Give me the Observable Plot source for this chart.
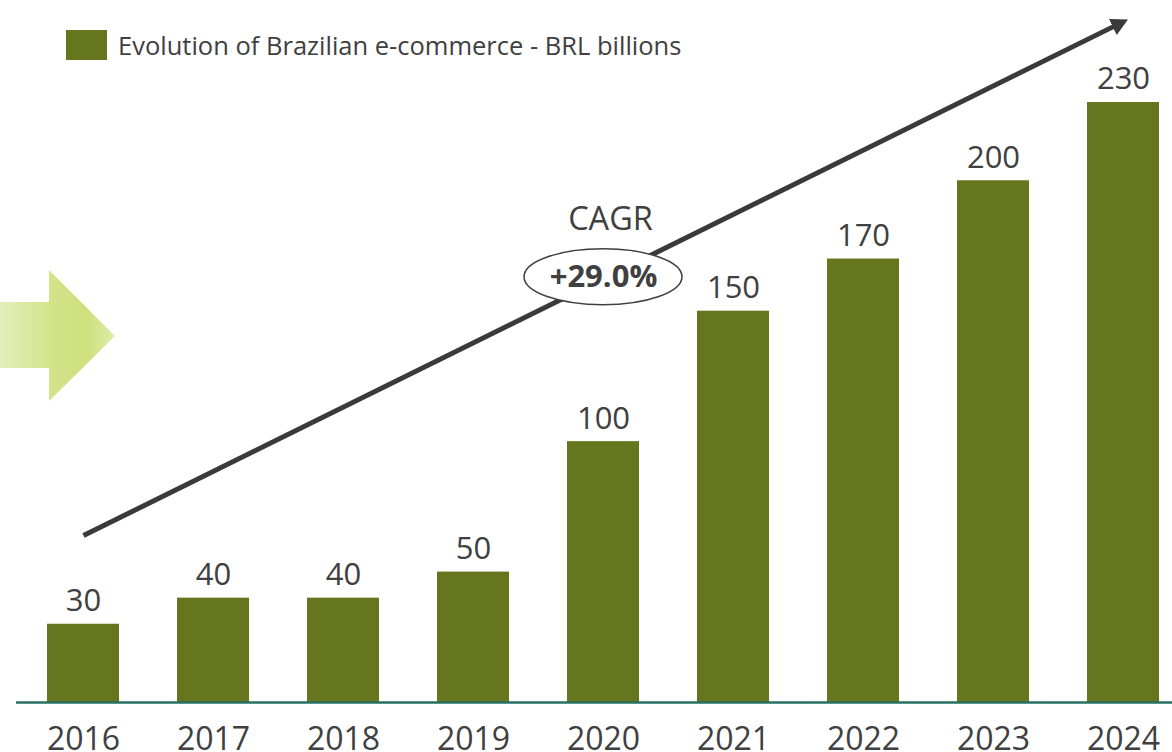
<!DOCTYPE html>
<html><head><meta charset="utf-8">
<script src="https://cdn.jsdelivr.net/npm/d3@7"></script>
<script src="https://cdn.jsdelivr.net/npm/@observablehq/plot@0.6"></script>
<style>
body{margin:0;background:#fff;font-family:"Open Sans",sans-serif;}
#wrap{position:relative;width:1172px;height:752px;overflow:hidden}
#legend{position:absolute;left:66px;top:30px;height:30px;display:flex;align-items:center;font-size:25.5px;color:#404040;white-space:nowrap;z-index:2}
#legend .sw{display:inline-block;width:41px;height:30px;background:#66761e;margin-right:11px;flex:none}
</style></head><body>
<div id="wrap"><div id="legend"><span class="sw"></span><span id="legtext"></span></div></div>
<script>
const years = ["2016","2017","2018","2019","2020","2021","2022","2023","2024"];
const values = [30, 40, 40, 50, 100, 150, 170, 200, 230];
const legendLabel = "Evolution of Brazilian e-commerce - BRL billions";
const trendStart = {year: "2016", value: 64};
const trendEnd = {year: "2024", value: 261};
const cagrTitle = {year: "2020", value: 185, text: "CAGR"};
const cagrValue = {year: "2020", value: 163, text: "+29.0%"};

const data = years.map((year, i) => ({year, value: values[i]}));
const trend = [{x1: trendStart.year, y1: trendStart.value, x2: trendEnd.year, y2: trendEnd.value}];
const barColor = "#66761e";
const textColor = "#404040";

document.getElementById("legtext").textContent = legendLabel;

const plot = Plot.plot({
  width: 1172,
  height: 752,
  marginLeft: 0, marginRight: 0, marginTop: 0, marginBottom: 50,
  style: {fontFamily: "'Open Sans', sans-serif", background: "white", overflow: "visible"},
  x: {type: "band", domain: years, range: [15.75, 1190.25], paddingInner: 0.448, paddingOuter: 0.224, axis: null},
  y: {domain: [0, 230], range: [702, 102], axis: null},
  marks: [
    Plot.barY(data, {x: "year", y: "value", fill: barColor}),
    Plot.ruleY([0], {stroke: "#2a6e60", strokeWidth: 2.5, insetLeft: 16}),
    Plot.text(data, {x: "year", y: "value", text: d => String(d.value), dy: -23, fontSize: 31, fill: textColor}),
    Plot.text(data, {x: "year", y: () => 0, text: "year", dy: 37, fontSize: 32, fill: textColor}),
    Plot.link(trend, {x1: "x1", y1: "y1", x2: "x2", y2: "y2", stroke: "#3a3a3a", strokeWidth: 5, className: "trend"}),
    Plot.text([cagrTitle], {x: "year", y: "value", text: "text", dx: 7, fontSize: 32.5, fill: textColor, className: "cagrtitle"}),
    Plot.text([cagrValue], {x: "year", y: "value", text: "text", fontSize: 31, fontWeight: "bold", fill: textColor, className: "cagrval"})
  ]
});

document.getElementById("wrap").appendChild(plot);

const svg = d3.select(plot);
const defs = svg.insert("defs", ":first-child");
// arrowhead marker
defs.append("marker")
  .attr("id", "trendhead")
  .attr("markerUnits", "userSpaceOnUse")
  .attr("viewBox", "0 -10 20 20")
  .attr("markerWidth", 20).attr("markerHeight", 20)
  .attr("refX", 12).attr("refY", 0)
  .attr("orient", "auto")
  .append("path").attr("d", "M0,-9L17,0L0,9Z").attr("fill", "#3a3a3a");
svg.selectAll(".trend path, .trend line").attr("marker-end", "url(#trendhead)").attr("stroke-linecap", "butt");

// gradient for decorative left arrow
const grad = defs.append("linearGradient").attr("id", "greenarrow").attr("x1", "0").attr("x2", "1").attr("y1", "0").attr("y2", "0");
grad.append("stop").attr("offset", "0%").attr("stop-color", "#e4eebb");
grad.append("stop").attr("offset", "45%").attr("stop-color", "#d3e38a");
grad.append("stop").attr("offset", "75%").attr("stop-color", "#cde07a");
grad.append("stop").attr("offset", "100%").attr("stop-color", "#e0ecae");
const arrowPath = document.createElementNS("http://www.w3.org/2000/svg", "path");
arrowPath.setAttribute("d", "M0,302H49V270L115,336L49,401V368H0Z");
arrowPath.setAttribute("fill", "url(#greenarrow)");
plot.insertBefore(arrowPath, defs.node().nextSibling);

// CAGR ellipse, placed at band centre of the CAGR label
const xs = plot.scale("x"), ys = plot.scale("y");
const cx = xs.apply(cagrValue.year) + xs.bandwidth / 2;
const cy = ys.apply(cagrValue.value);
const ell = document.createElementNS("http://www.w3.org/2000/svg", "ellipse");
ell.setAttribute("cx", cx); ell.setAttribute("cy", cy);
ell.setAttribute("rx", 79); ell.setAttribute("ry", 28);
ell.setAttribute("fill", "white"); ell.setAttribute("stroke", "#404040"); ell.setAttribute("stroke-width", 1.5);
const valNode = plot.querySelector(".cagrval");
if (valNode && valNode.parentNode) valNode.parentNode.insertBefore(ell, valNode);
else plot.appendChild(ell);
</script>
</body></html>
